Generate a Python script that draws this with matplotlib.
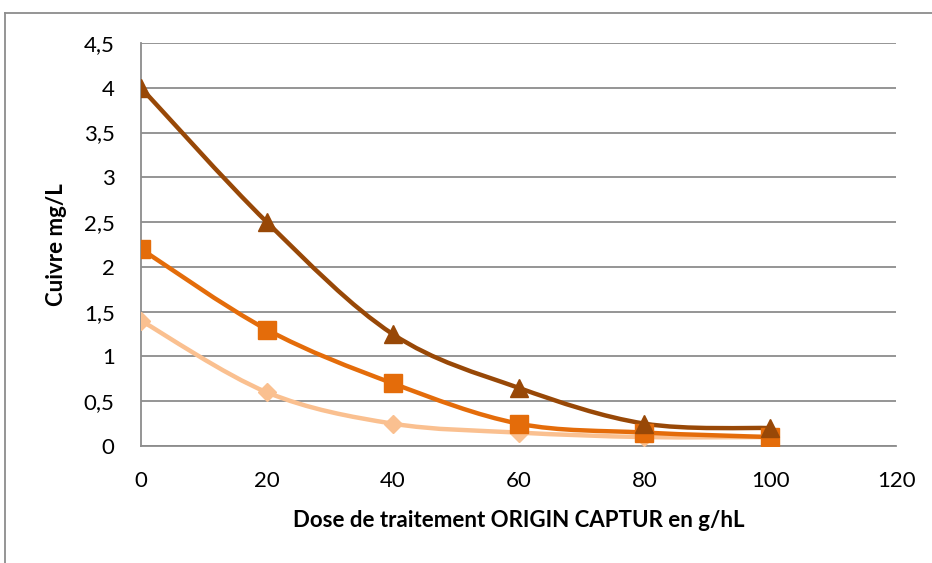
import numpy as np
import matplotlib.pyplot as plt
from matplotlib.path import Path
from matplotlib.patches import PathPatch
from matplotlib.lines import Line2D

plt.rcParams['font.family'] = ['Lato', 'DejaVu Sans']

# Données
dose = [0, 20, 40, 60, 80, 100]
serie_fonce = [4.0, 2.5, 1.25, 0.65, 0.25, 0.2]
serie_orange = [2.2, 1.3, 0.7, 0.25, 0.15, 0.1]
serie_clair = [1.4, 0.6, 0.25, 0.15, 0.1, 0.1]

xticks = [0, 20, 40, 60, 80, 100, 120]
yticks = [0, 0.5, 1, 1.5, 2, 2.5, 3, 3.5, 4, 4.5]
ytick_labels = ['0', '0,5', '1', '1,5', '2', '2,5', '3', '3,5', '4', '4,5']


def courbe_lissee(x, y):
    # lissage facon Excel : segments de Bezier cubiques
    pts = np.column_stack([x, y]).astype(float)
    verts = [pts[0]]
    codes = [Path.MOVETO]
    n = len(pts)
    for i in range(n - 1):
        p0 = pts[i - 1] if i > 0 else pts[i]
        p1 = pts[i]
        p2 = pts[i + 1]
        p3 = pts[i + 2] if i + 2 < n else pts[i + 1]
        c1 = p1 + (p2 - p0) / 6
        c2 = p2 - (p3 - p1) / 6
        verts += [c1, c2, p2]
        codes += [Path.CURVE4] * 3
    return Path(verts, codes)


fig = plt.figure(figsize=(9.32, 5.63), dpi=100)
ax = fig.add_axes([0.1513, 0.2078, 0.8101, 0.7158])

series = [
    (serie_clair, '#FAC090', 'D', 9.5),
    (serie_orange, '#E46C0A', 's', 13),
    (serie_fonce, '#984807', '^', 13.5),
]
for vals, col, mk, ms in series:
    ax.add_patch(PathPatch(courbe_lissee(dose, vals), facecolor='none',
                           edgecolor=col, lw=3.2, zorder=3, capstyle='round'))
    ax.plot(dose, vals, ls='none', marker=mk, ms=ms, color=col, zorder=4)

ax.set_xlim(0, 120)
ax.set_ylim(0, 4.5)
ax.set_xticks(xticks)
ax.set_yticks(yticks)
ax.set_yticklabels(ytick_labels)
ax.tick_params(length=0, labelsize=16)
ax.tick_params(axis='x', pad=18)
ax.tick_params(axis='y', pad=19)
ax.grid(axis='y', color='#8c8c8c', lw=1.3)
ax.set_axisbelow(True)
for s in ['top', 'right']:
    ax.spines[s].set_visible(False)
for s in ['left', 'bottom']:
    ax.spines[s].set_color('#8c8c8c')
    ax.spines[s].set_linewidth(1.3)

ax.set_xlabel('Dose de traitement ORIGIN CAPTUR en g/hL', fontsize=16,
              fontweight='bold', labelpad=14)
ax.set_ylabel('Cuivre mg/L', fontsize=16, fontweight='bold', labelpad=12)

# cadre du graphique
fig.add_artist(Line2D([5 / 932, 5 / 932], [0, 1 - 13 / 563],
                      transform=fig.transFigure, color='#8c8c8c', lw=1.3))
fig.add_artist(Line2D([5 / 932, 1], [1 - 13 / 563, 1 - 13 / 563],
                      transform=fig.transFigure, color='#8c8c8c', lw=1.3))

fig.savefig('out.png', dpi=100)
